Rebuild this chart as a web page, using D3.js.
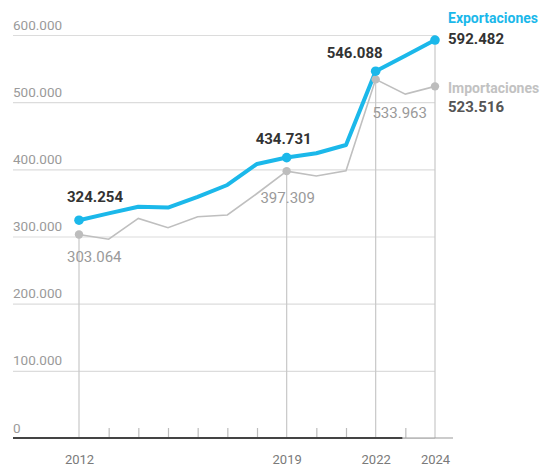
<!DOCTYPE html>
<html lang="es">
<head>
<meta charset="utf-8">
<script src="https://d3js.org/d3.v7.min.js"></script>
<style>
  body { margin: 0; background: #fff; }
  svg { font-family: Roboto, "Liberation Sans", sans-serif; }
</style>
</head>
<body>
<script>
// years and values as plotted (miles de millones)
var years = [2012, 2013, 2014, 2015, 2016, 2017, 2018, 2019, 2020, 2021, 2022, 2023, 2024];
var exportaciones = [324.254, 334.5, 344.4, 343, 359, 376.7, 408, 417.5, 424, 436.2, 546.088, 569, 592.482];
var importaciones = [303.064, 296, 327, 313, 329.5, 332, 364, 397.309, 390, 398, 533.963, 512, 523.516];
// printed values at the labelled years (2012, 2019, 2022, 2024)
var etiquetasExp = ["324.254", "434.731", "546.088", "592.482"];
var etiquetasImp = ["303.064", "397.309", "533.963", "523.516"];
var yTicks = [0, 100, 200, 300, 400, 500, 600];
var labelYears = [2012, 2019, 2022, 2024];

var w = 560, h = 466;
var gLeft = 13, gRight = 435, gTop = 35, gBottom = 438;

var svg = d3.select("body").append("svg")
  .attr("width", w)
  .attr("height", h);

var x = d3.scaleLinear().domain([2012, 2024]).range([79, 435]);
var y = d3.scaleLinear().domain([0, 600]).range([gBottom, gTop]);

var fmt = function(v) { return v === 0 ? "0" : d3.format(".3f")(v); };

// horizontal grid + y labels
var yAxis = svg.append("g")
  .attr("transform", "translate(" + gLeft + ",0)")
  .call(d3.axisRight(y).tickValues(yTicks).tickSize(gRight - gLeft).tickFormat(fmt));
yAxis.select(".domain").remove();
yAxis.selectAll(".tick line").attr("stroke", "#dcdcdc").attr("stroke-width", 1.2);
yAxis.selectAll(".tick text")
  .attr("x", 0).attr("dy", -6)
  .attr("text-anchor", "start")
  .attr("fill", "#9a9a9a")
  .style("font-size", "13.5px")
  .style("font-family", "Roboto, sans-serif");

// vertical lines at labelled years
var idx = function(yr) { return years.indexOf(yr); };
svg.selectAll("line.vgrid")
  .data(labelYears)
  .enter().append("line")
  .attr("class", "vgrid")
  .attr("x1", function(d) { return x(d); })
  .attr("x2", function(d) { return x(d); })
  .attr("y1", function(d) { return d === 2024 ? gTop : y(importaciones[idx(d)]); })
  .attr("y2", gBottom)
  .attr("stroke", "#c8c8c8")
  .attr("stroke-width", 1.2);

// x axis (small ticks + year labels)
var xAxis = svg.append("g")
  .attr("transform", "translate(0," + gBottom + ")")
  .call(d3.axisBottom(x).tickValues(years).tickSize(-10)
    .tickFormat(function(d) { return labelYears.indexOf(d) >= 0 ? d : ""; }));
xAxis.select(".domain").remove();
xAxis.selectAll(".tick line")
  .attr("stroke", "#bdbdbd")
  .attr("stroke-width", 1.2)
  .attr("y2", function(d) { return labelYears.indexOf(d) >= 0 ? 0 : -10; });
xAxis.selectAll(".tick text")
  .attr("y", 26).attr("dy", 0)
  .attr("fill", "#7a7a7a")
  .style("font-size", "13px")
  .style("font-family", "Roboto, sans-serif");

// base line
svg.append("line")
  .attr("x1", gLeft).attr("x2", 453)
  .attr("y1", gBottom).attr("y2", gBottom)
  .attr("stroke", "#9a9a9a").attr("stroke-width", 1.2);
svg.append("line")
  .attr("x1", gLeft).attr("x2", x(2023) - 3)
  .attr("y1", gBottom).attr("y2", gBottom)
  .attr("stroke", "#444").attr("stroke-width", 2.2);

// lines
var line = function(vals) {
  return d3.line().x(function(d, i) { return x(years[i]); }).y(function(d) { return y(d); })(vals);
};
svg.append("path")
  .attr("d", line(importaciones))
  .attr("fill", "none").attr("stroke", "#bfbfbf").attr("stroke-width", 1.6);
svg.append("path")
  .attr("d", line(exportaciones))
  .attr("fill", "none").attr("stroke", "#1bb8ea").attr("stroke-width", 4)
  .attr("stroke-linejoin", "round");

// points at labelled years
svg.selectAll("circle.imp")
  .data(labelYears).enter().append("circle")
  .attr("cx", function(d) { return x(d); })
  .attr("cy", function(d) { return y(importaciones[idx(d)]); })
  .attr("r", 4.2).attr("fill", "#bdbdbd");
svg.selectAll("circle.exp")
  .data(labelYears).enter().append("circle")
  .attr("cx", function(d) { return x(d); })
  .attr("cy", function(d) { return y(exportaciones[idx(d)]); })
  .attr("r", 4.8).attr("fill", "#1bb8ea");

// value labels
var expOff = {2012: [-12, -18, "start"], 2019: [-3, -14, "middle"], 2022: [-21, -13, "middle"]};
var impOff = {2012: [-12, 28, "start"], 2019: [1, 32, "middle"], 2022: [24, 39, "middle"]};
[2012, 2019, 2022].forEach(function(yr, k) {
  var i = idx(yr);
  svg.append("text")
    .attr("x", x(yr) + expOff[yr][0]).attr("y", y(exportaciones[i]) + expOff[yr][1])
    .attr("text-anchor", expOff[yr][2])
    .attr("fill", "#333").attr("font-weight", "bold").style("font-size", "15px")
    .text(etiquetasExp[k]);
  svg.append("text")
    .attr("x", x(yr) + impOff[yr][0]).attr("y", y(importaciones[i]) + impOff[yr][1])
    .attr("text-anchor", impOff[yr][2])
    .attr("fill", "#9a9a9a").style("font-size", "15px")
    .text(etiquetasImp[k]);
});

// end legend labels
svg.append("text").attr("x", 448).attr("y", 23)
  .attr("fill", "#1bb8ea").attr("font-weight", "bold").style("font-size", "14px")
  .text("Exportaciones");
svg.append("text").attr("x", 448).attr("y", 43.5)
  .attr("fill", "#333").attr("font-weight", "bold").style("font-size", "15px")
  .text(etiquetasExp[3]);
svg.append("text").attr("x", 448).attr("y", 93)
  .attr("fill", "#c2c2c2").attr("font-weight", "bold").style("font-size", "14px")
  .text("Importaciones");
svg.append("text").attr("x", 448).attr("y", 112)
  .attr("fill", "#555").attr("font-weight", "bold").style("font-size", "15px")
  .text(etiquetasImp[3]);
</script>
</body>
</html>
